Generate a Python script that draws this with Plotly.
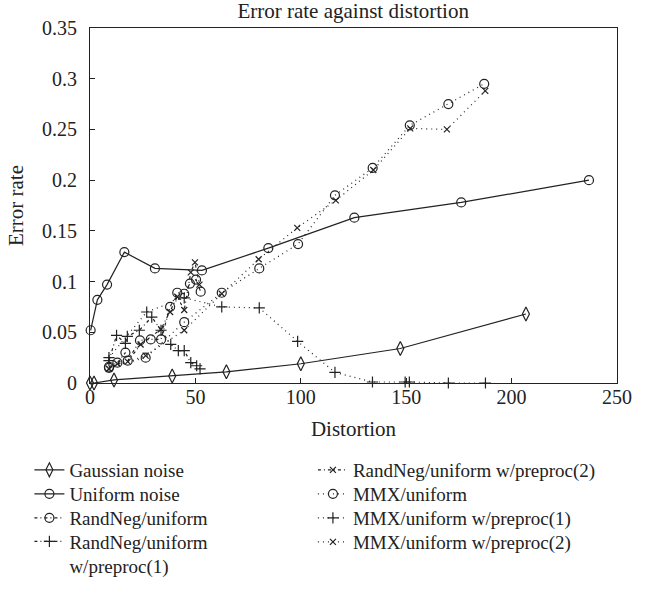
import plotly.graph_objects as go

# ---- data ----
gauss_x = [0, 1.9, 11.4, 39, 64.7, 100, 147.2, 206.8]
gauss_y = [0, 0, 0.003, 0.007, 0.011, 0.019, 0.034, 0.068]

unif_x = [0.3, 3.5, 8.1, 16.3, 30.8, 53.1, 84.6, 125.4, 176.1, 236.7]
unif_y = [0.052, 0.082, 0.097, 0.129, 0.113, 0.111, 0.133, 0.163, 0.178, 0.200]

rn_x = [9, 13, 16.8, 17.9, 23.7, 28.8, 33.7, 38, 41.4, 44.7, 47.4, 50.3, 52.5]
rn_y = [0.016, 0.020, 0.030, 0.022, 0.042, 0.043, 0.043, 0.075, 0.089, 0.088, 0.098, 0.102, 0.090]

rn1_x = [9, 12.6, 16.8, 17.7, 23.4, 29.3, 33.7, 38.3, 41.9, 44.7, 47.8, 50.6, 52.2]
rn1_y = [0.022, 0.047, 0.039, 0.046, 0.052, 0.065, 0.052, 0.038, 0.032, 0.032, 0.020, 0.017, 0.014]

rn2_x = [9, 13, 17.9, 24, 33.7, 38, 41.4, 44.7, 47.8, 49.8, 51.9]
rn2_y = [0.014, 0.019, 0.021, 0.038, 0.053, 0.070, 0.085, 0.072, 0.109, 0.119, 0.097]

mmx_x = [9, 26.4, 44.7, 62.5, 80.3, 98.7, 116.2, 134.1, 151.7, 170, 187]
mmx_y = [0.015, 0.025, 0.060, 0.089, 0.113, 0.137, 0.185, 0.212, 0.254, 0.275, 0.295]

mmx1_x = [9, 26.9, 44.7, 62.5, 80.3, 98.5, 116.2, 134, 149.5, 151.5, 170, 187.6]
mmx1_y = [0.025, 0.070, 0.084, 0.075, 0.074, 0.041, 0.0105, 0.001, 0.001, 0.001, 0.0, 0.0]

mmx2_x = [9, 26.4, 44.7, 62.5, 80, 98.3, 116.6, 134.4, 151.9, 169.3, 187.5]
mmx2_y = [0.014, 0.027, 0.052, 0.088, 0.122, 0.153, 0.180, 0.210, 0.251, 0.250, 0.288]

x_ticks = [0, 50, 100, 150, 200, 250]
y_ticks = [0, 0.05, 0.1, 0.15, 0.2, 0.25, 0.3, 0.35]
y_tick_text = ["0", "0.05", "0.1", "0.15", "0.2", "0.25", "0.3", "0.35"]

FONT = "Liberation Serif"
BLACK = "#222222"
DASHDOT = "3px,3px,1px,3px"
DOT = "1px,4px"

# (x, y, name, marker symbol, marker size, dash, legend column, legend row centre in px)
series = [
    (gauss_x, gauss_y, "Gaussian noise", "diamond-tall-open", 10, "solid", 0, 470),
    (unif_x, unif_y, "Uniform noise", "circle-open", 9, "solid", 0, 494),
    (rn_x, rn_y, "RandNeg/uniform", "circle-open", 9, DASHDOT, 0, 518),
    (rn1_x, rn1_y, "RandNeg/uniform<br>w/preproc(1)", "cross-thin-open", 8, DASHDOT, 0, 554),
    (rn2_x, rn2_y, "RandNeg/uniform w/preproc(2)", "x-thin-open", 6, DASHDOT, 1, 470),
    (mmx_x, mmx_y, "MMX/uniform", "circle-open", 9, DOT, 1, 494),
    (mmx1_x, mmx1_y, "MMX/uniform w/preproc(1)", "cross-thin-open", 8, DOT, 1, 518),
    (mmx2_x, mmx2_y, "MMX/uniform w/preproc(2)", "x-thin-open", 6, DOT, 1, 542),
]

PLOT_TOP, PLOT_BOTTOM = 28, 383
col_x = [-0.115, 0.423]

fig = go.Figure()
legends = {}
for i, (x, y, name, sym, size, dash, col, row_px) in enumerate(series):
    lname = "legend" if i == 0 else f"legend{i + 1}"
    fig.add_trace(go.Scatter(
        x=x, y=y, name=name, mode="lines+markers", legend=lname,
        line=dict(color=BLACK, width=1.2, dash=dash),
        marker=dict(symbol=sym, size=size, color=BLACK,
                    line=dict(color=BLACK, width=1.2)),
        cliponaxis=False,
    ))
    legends[lname] = dict(
        x=col_x[col], y=(PLOT_BOTTOM - row_px) / (PLOT_BOTTOM - PLOT_TOP),
        xanchor="left", yanchor="middle", valign="top",
        bgcolor="rgba(0,0,0,0)", font=dict(family=FONT, size=19, color=BLACK),
        itemwidth=30,
    )

axis_common = dict(
    showgrid=False, zeroline=False, showline=True, linecolor=BLACK, linewidth=1,
    mirror=True, ticks="inside", ticklen=5, tickcolor=BLACK,
    tickfont=dict(family=FONT, size=20, color=BLACK),
)

fig.update_layout(
    width=648, height=608,
    margin=dict(l=90, r=31, t=PLOT_TOP, b=608 - PLOT_BOTTOM),
    paper_bgcolor="white", plot_bgcolor="white",
    font=dict(family=FONT, size=20, color=BLACK),
    title=dict(text="Error rate against distortion", x=0.545, xanchor="center",
               y=0.995, yanchor="top", font=dict(family=FONT, size=21, color=BLACK)),
    xaxis=dict(range=[0, 250], tickvals=x_ticks, ticklabelstandoff=-4,
               title=dict(text="Distortion", standoff=14, font=dict(size=21)), **axis_common),
    yaxis=dict(range=[0, 0.35], tickvals=y_ticks, ticktext=y_tick_text,
               ticklabelstandoff=8,
               title=dict(text="Error rate", standoff=12, font=dict(size=21)), **axis_common),
    showlegend=True,
    **legends,
)

fig.write_html("out.html")
